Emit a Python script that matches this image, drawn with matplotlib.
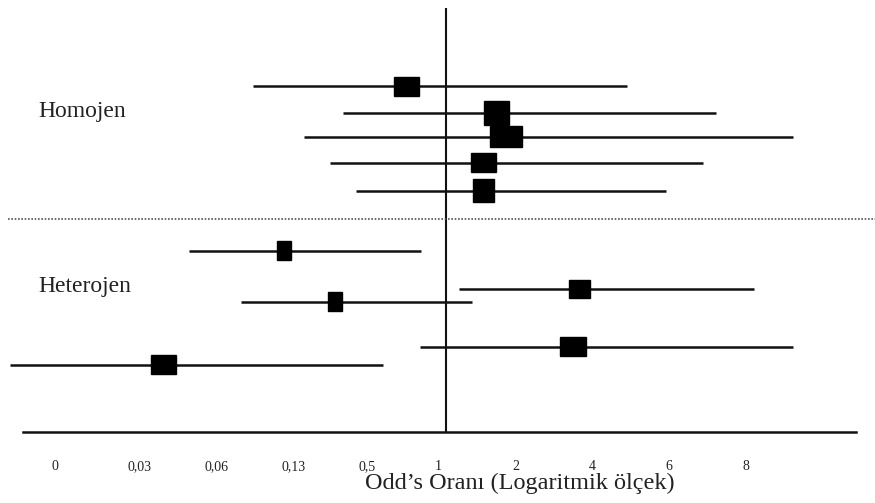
import matplotlib.pyplot as plt
from matplotlib.patches import Rectangle

# Eksen etiketleri (esit aralikli, logaritmik olcek)
tick_labels = ["0", "0,03", "0,06", "0,13", "0,5", "1", "2", "4", "6", "8"]

# Calisma sonuclari, eksen konum biriminde (0 = "0", 5 = "1", ...)
or_point = [4.63, 5.80, 5.92, 5.63, 5.63, 3.03, 6.88, 3.70, 6.80, 1.46]
ci_low = [2.63, 3.80, 3.29, 3.63, 3.97, 1.80, 5.31, 2.47, 4.80, -0.53]
ci_high = [7.50, 8.66, 9.66, 8.49, 8.00, 4.82, 9.15, 5.48, 9.66, 4.32]
row_y = [13.30, 12.27, 11.35, 10.35, 9.27, 6.97, 5.51, 5.01, 3.28, 2.58]
box_w = [0.33, 0.33, 0.42, 0.33, 0.27, 0.18, 0.27, 0.18, 0.34, 0.33]
box_h = [0.73, 0.92, 0.81, 0.73, 0.88, 0.73, 0.69, 0.73, 0.73, 0.73]

groups = ["Homojen", "Heterojen"]
group_y = [12.1, 5.38]
group_split = 8.17
ref_x = 5.14

plt.rcParams['font.family'] = ['Liberation Serif', 'DejaVu Serif']

fig = plt.figure(figsize=(8.75, 5.03), dpi=100)
ax = fig.add_axes([23 / 875, 71 / 503, 833 / 875, 424 / 503])
ax.set_xlim(-0.365, 10.48)
ax.set_ylim(0, 16.3)

for s in ["top", "left", "right"]:
    ax.spines[s].set_visible(False)
ax.spines["bottom"].set_linewidth(1.8)
ax.spines["bottom"].set_color("#111111")
ax.set_yticks([])
ax.set_xticks(range(len(tick_labels)), tick_labels, fontsize=10, color="#222222")
ax.tick_params(axis="x", length=0, pad=20)
for t in ax.get_xticklabels():
    t.set_horizontalalignment("left")

# referans cizgisi (OR = 1)
ax.axvline(ref_x, color="#111111", lw=1.5)

# gruplari ayiran noktali cizgi
ax.plot([-0.56, 10.73], [group_split, group_split], ls=(0, (1, 1)), lw=1.2,
        color="#555555", clip_on=False)

# guven araliklari ve kutular
for i in range(len(or_point)):
    ax.plot([ci_low[i], ci_high[i]], [row_y[i], row_y[i]], color="#111111",
            lw=1.8, clip_on=False, solid_capstyle="butt")
    ax.add_patch(Rectangle((or_point[i] - box_w[i] / 2, row_y[i] - box_h[i] / 2),
                           box_w[i], box_h[i], color="black", zorder=3))

for name, y in zip(groups, group_y):
    ax.text(-0.17, y, name, fontsize=17, ha="left", va="baseline", color="#222222")

ax.set_xlabel("Odd\u2019s Oran\u0131 (Logaritmik \u00f6l\u00e7ek)", fontsize=17.5, color="#222222")
ax.xaxis.label.set_verticalalignment("baseline")
ax.xaxis.set_label_coords(0.597, -0.135)

fig.savefig("out.png", dpi=100)
